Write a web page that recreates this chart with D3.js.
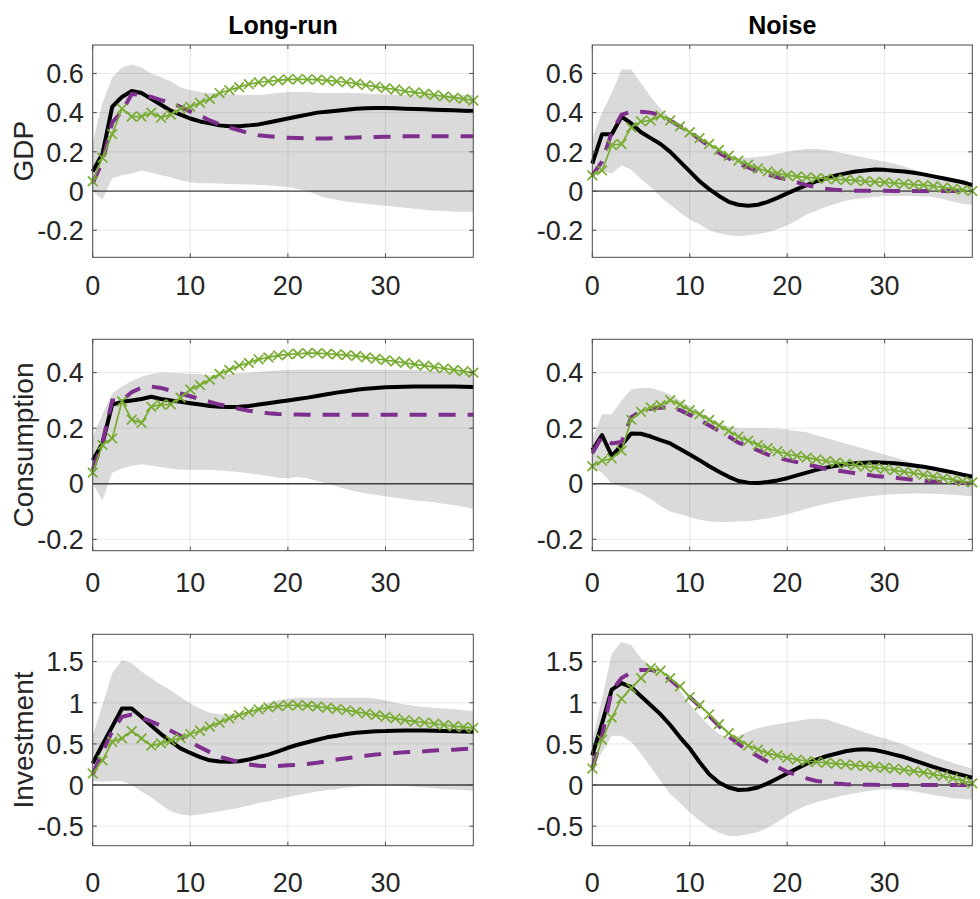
<!DOCTYPE html>
<html><head><meta charset="utf-8">
<script src="https://cdn.jsdelivr.net/npm/d3@7"></script>
<style>body{margin:0;background:#fff}</style>
</head><body>
<svg id="c" width="980" height="899"></svg>
<script>
// ---------- data ----------
const horizon = d3.range(40);
const columnTitles = ["Long-run", "Noise"];
const rowLabels = ["GDP", "Consumption", "Investment"];
const xTickValues = [0, 10, 20, 30];
const yTickValues = [[-0.2, 0, 0.2, 0.4, 0.6], [-0.2, 0, 0.2, 0.4], [-0.5, 0, 0.5, 1, 1.5]];
const yDomains = [[-0.338, 0.745], [-0.241, 0.52], [-0.738, 1.833]];

// Long-run, GDP
const lrGdpHi = [0.25,0.45,0.58,0.63,0.645,0.63,0.6,0.58,0.56,0.53,0.515,0.505,0.5,0.5,0.495,0.49,0.49,0.49,0.495,0.5,0.505,0.505,0.505,0.5,0.5,0.5,0.5,0.5,0.498,0.495,0.493,0.492,0.49,0.49,0.49,0.49,0.49,0.49,0.49,0.49];
const lrGdpLo = [0.0,-0.045,0.065,0.08,0.09,0.105,0.095,0.08,0.07,0.055,0.045,0.04,0.04,0.038,0.036,0.035,0.033,0.031,0.03,0.025,0.02,0.01,0.0,-0.02,-0.035,-0.045,-0.055,-0.06,-0.065,-0.07,-0.075,-0.08,-0.085,-0.09,-0.095,-0.1,-0.1,-0.105,-0.105,-0.105];
const lrGdpSolid = [0.1,0.19,0.43,0.48,0.51,0.5,0.47,0.44,0.41,0.39,0.37,0.355,0.345,0.335,0.33,0.33,0.335,0.34,0.35,0.36,0.37,0.38,0.39,0.4,0.405,0.41,0.415,0.42,0.422,0.423,0.423,0.422,0.42,0.418,0.417,0.415,0.413,0.412,0.41,0.408];
const lrGdpDashed = [0.04,0.15,0.35,0.405,0.495,0.49,0.48,0.464,0.45,0.43,0.405,0.385,0.36,0.34,0.325,0.31,0.295,0.285,0.28,0.275,0.272,0.27,0.268,0.268,0.268,0.27,0.272,0.273,0.275,0.276,0.277,0.278,0.279,0.28,0.28,0.28,0.28,0.28,0.28,0.28];
const lrGdpCross = [0.05,0.17,0.29,0.42,0.38,0.38,0.4,0.375,0.39,0.42,0.43,0.45,0.47,0.5,0.515,0.53,0.545,0.555,0.56,0.565,0.57,0.57,0.57,0.568,0.565,0.56,0.555,0.548,0.54,0.533,0.525,0.518,0.51,0.503,0.497,0.49,0.483,0.477,0.47,0.462];

// Noise, GDP
const nsGdpHi = [0.27,0.4,0.5,0.62,0.62,0.55,0.48,0.42,0.37,0.33,0.3,0.27,0.24,0.2,0.175,0.17,0.17,0.175,0.18,0.19,0.2,0.21,0.215,0.215,0.21,0.2,0.19,0.18,0.17,0.16,0.15,0.14,0.125,0.11,0.095,0.08,0.07,0.06,0.05,0.035];
const nsGdpLo = [0.1,0.1,0.09,0.13,0.11,0.06,0.02,-0.03,-0.07,-0.11,-0.145,-0.17,-0.2,-0.215,-0.225,-0.23,-0.225,-0.22,-0.21,-0.195,-0.175,-0.15,-0.12,-0.1,-0.08,-0.065,-0.05,-0.04,-0.035,-0.03,-0.025,-0.025,-0.025,-0.025,-0.028,-0.03,-0.04,-0.055,-0.065,-0.07];
const nsGdpSolid = [0.14,0.29,0.29,0.38,0.345,0.3,0.27,0.24,0.2,0.15,0.1,0.05,0.01,-0.025,-0.055,-0.07,-0.075,-0.07,-0.055,-0.035,-0.012,0.01,0.03,0.05,0.065,0.08,0.09,0.1,0.105,0.11,0.108,0.104,0.1,0.093,0.085,0.075,0.065,0.055,0.045,0.03];
const nsGdpDashed = [0.08,0.15,0.3,0.39,0.405,0.405,0.4,0.385,0.36,0.33,0.3,0.265,0.23,0.195,0.167,0.14,0.12,0.1,0.085,0.07,0.06,0.045,0.03,0.02,0.012,0.006,0.003,0.002,0.001,0.001,0.001,0,0,0,0,0,0,0,0,0];
const nsGdpCross = [0.08,0.105,0.235,0.24,0.325,0.355,0.36,0.385,0.36,0.33,0.3,0.27,0.24,0.21,0.18,0.155,0.135,0.115,0.1,0.09,0.08,0.075,0.07,0.066,0.063,0.06,0.057,0.054,0.05,0.047,0.044,0.04,0.037,0.033,0.03,0.025,0.018,0.012,0.006,0.0];

// Long-run, Consumption
const lrConHi = [0.17,0.25,0.325,0.35,0.37,0.385,0.395,0.4,0.4,0.398,0.395,0.395,0.39,0.392,0.395,0.398,0.4,0.403,0.405,0.408,0.41,0.41,0.41,0.41,0.41,0.41,0.41,0.41,0.41,0.41,0.41,0.41,0.41,0.41,0.408,0.406,0.405,0.405,0.405,0.405];
const lrConLo = [0.0,-0.06,0.04,0.055,0.065,0.07,0.065,0.06,0.055,0.05,0.05,0.05,0.05,0.048,0.045,0.042,0.038,0.033,0.028,0.022,0.02,0.025,0.02,0.01,0.0,-0.01,-0.02,-0.028,-0.035,-0.04,-0.045,-0.05,-0.055,-0.06,-0.063,-0.067,-0.072,-0.077,-0.083,-0.09];
const lrConSolid = [0.085,0.145,0.285,0.295,0.3,0.305,0.313,0.305,0.3,0.295,0.29,0.285,0.28,0.277,0.276,0.277,0.28,0.285,0.29,0.295,0.3,0.305,0.31,0.316,0.322,0.328,0.333,0.338,0.342,0.345,0.347,0.348,0.349,0.35,0.35,0.35,0.35,0.35,0.349,0.348];
const lrConDashed = [0.05,0.15,0.3,0.3,0.33,0.346,0.35,0.345,0.335,0.325,0.315,0.305,0.295,0.285,0.278,0.27,0.263,0.258,0.254,0.251,0.25,0.249,0.248,0.248,0.248,0.248,0.248,0.248,0.248,0.248,0.248,0.248,0.248,0.248,0.248,0.248,0.248,0.248,0.248,0.248];
const lrConCross = [0.04,0.14,0.163,0.297,0.231,0.219,0.277,0.285,0.286,0.31,0.339,0.355,0.375,0.395,0.41,0.425,0.435,0.448,0.455,0.462,0.466,0.468,0.47,0.47,0.468,0.466,0.463,0.46,0.455,0.45,0.445,0.44,0.435,0.43,0.425,0.42,0.415,0.41,0.405,0.4];

// Noise, Consumption
const nsConHi = [0.16,0.25,0.25,0.3,0.34,0.345,0.345,0.335,0.32,0.3,0.28,0.26,0.24,0.22,0.205,0.2,0.2,0.2,0.2,0.198,0.195,0.19,0.185,0.175,0.165,0.155,0.145,0.135,0.125,0.115,0.105,0.095,0.085,0.075,0.065,0.055,0.048,0.042,0.038,0.035];
const nsConLo = [0.06,0.04,0.0,-0.01,-0.02,-0.035,-0.055,-0.08,-0.1,-0.11,-0.12,-0.13,-0.135,-0.138,-0.138,-0.135,-0.135,-0.13,-0.125,-0.118,-0.11,-0.1,-0.09,-0.08,-0.072,-0.065,-0.058,-0.052,-0.047,-0.043,-0.04,-0.038,-0.036,-0.035,-0.035,-0.036,-0.038,-0.04,-0.042,-0.045];
const nsConSolid = [0.12,0.175,0.1,0.139,0.181,0.18,0.17,0.157,0.145,0.125,0.105,0.085,0.063,0.043,0.025,0.01,0.004,0.003,0.006,0.012,0.02,0.03,0.04,0.05,0.058,0.065,0.07,0.074,0.076,0.077,0.076,0.074,0.07,0.066,0.061,0.055,0.048,0.041,0.033,0.025];
const nsConDashed = [0.11,0.17,0.145,0.15,0.24,0.26,0.27,0.274,0.275,0.265,0.248,0.23,0.21,0.19,0.17,0.148,0.135,0.12,0.105,0.095,0.085,0.078,0.07,0.062,0.053,0.048,0.043,0.038,0.033,0.028,0.025,0.022,0.018,0.014,0.01,0.008,0.006,0.004,0.003,0.002];
const nsConCross = [0.063,0.083,0.091,0.119,0.231,0.259,0.275,0.283,0.301,0.285,0.265,0.25,0.23,0.21,0.19,0.17,0.155,0.14,0.128,0.117,0.107,0.1,0.094,0.088,0.082,0.077,0.072,0.067,0.062,0.058,0.053,0.048,0.043,0.038,0.032,0.026,0.02,0.014,0.009,0.005];

// Long-run, Investment
const lrInvHi = [0.6,0.97,1.36,1.52,1.48,1.38,1.3,1.22,1.15,1.07,0.99,0.93,0.88,0.86,0.86,0.87,0.89,0.95,1.0,1.03,1.05,1.06,1.06,1.06,1.06,1.06,1.06,1.06,1.06,1.05,1.03,1.0,0.98,0.96,0.95,0.94,0.93,0.92,0.91,0.9];
const lrInvLo = [0.05,0.04,0.05,0.05,0.0,-0.08,-0.15,-0.24,-0.32,-0.36,-0.37,-0.36,-0.34,-0.32,-0.3,-0.275,-0.25,-0.22,-0.2,-0.17,-0.15,-0.12,-0.1,-0.08,-0.06,-0.05,-0.03,-0.02,-0.01,0.0,0.0,0.0,-0.01,-0.02,-0.03,-0.04,-0.05,-0.055,-0.06,-0.07];
const lrInvSolid = [0.263,0.49,0.71,0.93,0.93,0.83,0.72,0.62,0.53,0.445,0.39,0.34,0.3,0.285,0.283,0.29,0.31,0.34,0.37,0.41,0.453,0.49,0.52,0.55,0.58,0.6,0.62,0.635,0.645,0.655,0.656,0.66,0.662,0.662,0.662,0.66,0.658,0.655,0.652,0.648];
const lrInvDashed = [0.13,0.4,0.656,0.83,0.858,0.82,0.77,0.72,0.66,0.6,0.526,0.46,0.4,0.345,0.31,0.28,0.25,0.235,0.23,0.232,0.24,0.245,0.255,0.27,0.29,0.31,0.325,0.34,0.355,0.37,0.38,0.39,0.4,0.405,0.41,0.42,0.425,0.43,0.437,0.443];
const lrInvCross = [0.14,0.3,0.526,0.567,0.656,0.567,0.478,0.506,0.54,0.57,0.62,0.66,0.71,0.76,0.81,0.85,0.89,0.92,0.945,0.96,0.97,0.97,0.965,0.955,0.94,0.925,0.91,0.89,0.87,0.85,0.83,0.81,0.79,0.77,0.76,0.745,0.73,0.715,0.705,0.696];

// Noise, Investment
const nsInvHi = [0.55,1.05,1.6,1.74,1.7,1.54,1.45,1.36,1.28,1.15,0.98,0.85,0.72,0.62,0.57,0.6,0.65,0.69,0.72,0.74,0.76,0.78,0.8,0.81,0.8,0.76,0.72,0.68,0.64,0.6,0.57,0.53,0.49,0.44,0.4,0.35,0.31,0.27,0.23,0.2];
const nsInvLo = [0.2,0.4,0.6,0.6,0.526,0.38,0.22,0.05,-0.11,-0.22,-0.33,-0.43,-0.52,-0.58,-0.62,-0.62,-0.6,-0.57,-0.52,-0.45,-0.37,-0.3,-0.25,-0.21,-0.18,-0.15,-0.12,-0.1,-0.08,-0.06,-0.05,-0.05,-0.06,-0.08,-0.1,-0.12,-0.14,-0.16,-0.17,-0.18];
const nsInvSolid = [0.36,0.75,1.16,1.24,1.19,1.08,0.97,0.86,0.73,0.58,0.445,0.28,0.13,0.03,-0.03,-0.06,-0.055,-0.03,0.02,0.08,0.14,0.2,0.26,0.31,0.35,0.38,0.41,0.43,0.435,0.425,0.4,0.37,0.34,0.3,0.26,0.22,0.185,0.15,0.12,0.09];
const nsInvDashed = [0.2,0.6,1.15,1.3,1.37,1.4,1.4,1.37,1.28,1.18,1.07,0.96,0.84,0.72,0.59,0.5,0.42,0.35,0.283,0.22,0.16,0.12,0.08,0.05,0.035,0.02,0.01,0.005,0.003,0.002,0.001,0,0,0,0,0,0,0,0,0];
const nsInvCross = [0.2,0.55,0.82,1.05,1.18,1.3,1.42,1.39,1.3,1.2,1.07,0.97,0.86,0.74,0.63,0.55,0.48,0.43,0.385,0.36,0.33,0.31,0.29,0.28,0.27,0.26,0.25,0.24,0.23,0.22,0.21,0.2,0.185,0.17,0.15,0.13,0.11,0.08,0.05,0.02];

const panelData = [
  [ {hi: lrGdpHi, lo: lrGdpLo, solid: lrGdpSolid, dashed: lrGdpDashed, cross: lrGdpCross},
    {hi: nsGdpHi, lo: nsGdpLo, solid: nsGdpSolid, dashed: nsGdpDashed, cross: nsGdpCross} ],
  [ {hi: lrConHi, lo: lrConLo, solid: lrConSolid, dashed: lrConDashed, cross: lrConCross},
    {hi: nsConHi, lo: nsConLo, solid: nsConSolid, dashed: nsConDashed, cross: nsConCross} ],
  [ {hi: lrInvHi, lo: lrInvLo, solid: lrInvSolid, dashed: lrInvDashed, cross: lrInvCross},
    {hi: nsInvHi, lo: nsInvLo, solid: nsInvSolid, dashed: nsInvDashed, cross: nsInvCross} ]
];

// ---------- layout ----------
const colX = [[92.7, 473.3], [592.3, 972.3]];
const rowY = [[45, 257.3], [339.3, 550.7], [634.3, 845.7]];
const xLabelCenter = [285, 582, 882];
const FONT = "'Liberation Sans', Arial, Helvetica, sans-serif";
const svg = d3.select("#c");

const xs = colX.map(([a, b]) => d3.scaleLinear().domain([0, 39]).range([a, b]));

rowY.forEach(([top, bottom], r) => {
  const y = d3.scaleLinear().domain(yDomains[r]).range([bottom, top]);
  colX.forEach(([left, right], c) => {
    const x = xs[c];
    const d = panelData[r][c];
    const g = svg.append("g");

    // band
    g.append("path")
      .datum(horizon)
      .attr("d", d3.area().x(i => x(i)).y0(i => y(d.lo[i])).y1(i => y(d.hi[i])))
      .attr("fill", "#dadada").attr("stroke", "none");

    // grid
    g.selectAll(null).data(xTickValues).enter().append("line")
      .attr("x1", v => x(v)).attr("x2", v => x(v)).attr("y1", top).attr("y2", bottom)
      .attr("stroke", "#000").attr("stroke-opacity", 0.09).attr("stroke-width", 1);
    g.selectAll(null).data(yTickValues[r]).enter().append("line")
      .attr("x1", left).attr("x2", right).attr("y1", v => y(v)).attr("y2", v => y(v))
      .attr("stroke", "#000").attr("stroke-opacity", 0.09).attr("stroke-width", 1);

    // zero line
    g.append("line").attr("x1", left).attr("x2", right).attr("y1", y(0)).attr("y2", y(0))
      .attr("stroke", "#404040").attr("stroke-width", 1.3);

    const line = arr => d3.line().x(i => x(i)).y(i => y(arr[i]))(horizon);

    // solid black
    g.append("path").attr("d", line(d.solid)).attr("fill", "none")
      .attr("stroke", "#000").attr("stroke-width", 4).attr("stroke-linejoin", "round");
    // dashed purple
    g.append("path").attr("d", line(d.dashed)).attr("fill", "none")
      .attr("stroke", "#7E2F8E").attr("stroke-width", 4).attr("stroke-dasharray", "17,12");
    // green with crosses
    g.append("path").attr("d", line(d.cross)).attr("fill", "none")
      .attr("stroke", "#77AC30").attr("stroke-width", 1.7);
    g.selectAll(null).data(horizon).enter().append("path")
      .attr("transform", i => `translate(${x(i)},${y(d.cross[i])})`)
      .attr("d", "M-4.8,-4.8L4.8,4.8M-4.8,4.8L4.8,-4.8")
      .attr("stroke", "#77AC30").attr("stroke-width", 1.7).attr("fill", "none");

    // box
    g.append("rect").attr("x", left).attr("y", top).attr("width", right - left).attr("height", bottom - top)
      .attr("fill", "none").attr("stroke", "#4a4a4a").attr("stroke-width", 1);

    // ticks (inward)
    xTickValues.forEach(v => {
      g.append("line").attr("x1", x(v)).attr("x2", x(v)).attr("y1", bottom).attr("y2", bottom - 4).attr("stroke", "#4a4a4a");
      g.append("line").attr("x1", x(v)).attr("x2", x(v)).attr("y1", top).attr("y2", top + 4).attr("stroke", "#4a4a4a");
    });
    yTickValues[r].forEach(v => {
      g.append("line").attr("x1", left).attr("x2", left + 4).attr("y1", y(v)).attr("y2", y(v)).attr("stroke", "#4a4a4a");
      g.append("line").attr("x1", right).attr("x2", right - 4).attr("y1", y(v)).attr("y2", y(v)).attr("stroke", "#4a4a4a");
    });

    // tick labels
    g.selectAll(null).data(xTickValues).enter().append("text")
      .attr("x", v => x(v)).attr("y", xLabelCenter[r]).attr("dy", "0.36em")
      .attr("text-anchor", "middle").attr("font-family", FONT).attr("font-size", 27)
      .attr("fill", "#262626").text(v => String(v));
    g.selectAll(null).data(yTickValues[r]).enter().append("text")
      .attr("x", left - 9).attr("y", v => y(v)).attr("dy", "0.36em")
      .attr("text-anchor", "end").attr("font-family", FONT).attr("font-size", 27)
      .attr("fill", "#262626").text(v => String(v));

    if (r === 0) {
      svg.append("text").attr("x", (left + right) / 2).attr("y", 34)
        .attr("text-anchor", "middle").attr("font-family", FONT).attr("font-weight", "bold")
        .attr("font-size", 25).attr("fill", "#000").text(columnTitles[c]);
    }
  });
  svg.append("text")
    .attr("transform", `translate(33,${(top + bottom) / 2}) rotate(-90)`)
    .attr("text-anchor", "middle").attr("font-family", FONT).attr("font-size", 28)
    .attr("fill", "#262626").text(rowLabels[r]);
});
</script>
</body></html>
